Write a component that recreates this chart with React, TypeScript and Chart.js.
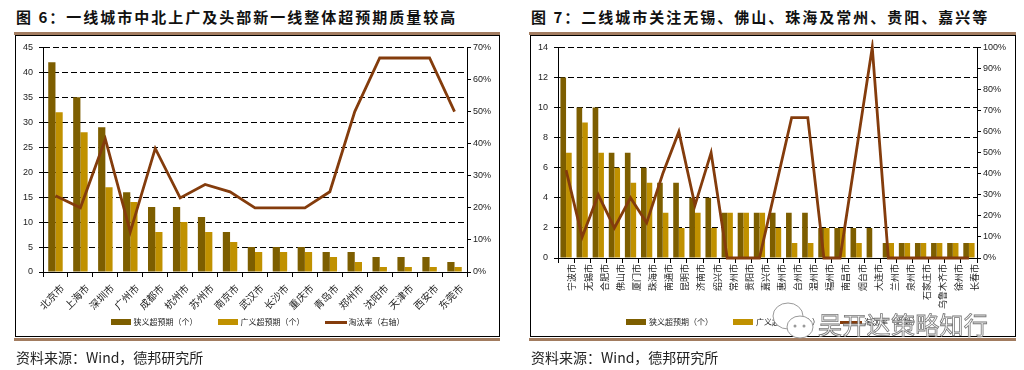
import React, { useEffect, useRef } from 'react';
import { Chart, registerables } from 'chart.js';

Chart.register(...registerables);

// ---------- Data: Figure 6 ----------
const leftCities = ['北京市', '上海市', '深圳市', '广州市', '成都市', '杭州市', '苏州市', '南京市', '武汉市', '长沙市', '重庆市', '青岛市', '郑州市', '沈阳市', '天津市', '西安市', '东莞市'];
const leftNarrow = [42, 35, 29, 16, 13, 13, 11, 8, 5, 5, 5, 4, 4, 3, 3, 3, 2];
const leftBroad = [32, 28, 17, 14, 8, 10, 8, 6, 4, 4, 4, 3, 2, 1, 1, 1, 1];
const leftRate = [23.8, 20, 41.4, 12.5, 38.5, 23.1, 27.3, 25, 20, 20, 20, 25, 50, 66.7, 66.7, 66.7, 50];

// ---------- Data: Figure 7 ----------
const rightCities = ['宁波市', '无锡市', '合肥市', '佛山市', '厦门市', '珠海市', '南通市', '昆明市', '济南市', '绍兴市', '常州市', '贵阳市', '嘉兴市', '惠州市', '台州市', '温州市', '福州市', '南昌市', '烟台市', '大连市', '兰州市', '泉州市', '石家庄市', '乌鲁木齐市', '徐州市', '长春市'];
const rightNarrow = [12, 10, 10, 7, 7, 6, 5, 5, 4, 4, 3, 3, 3, 3, 3, 3, 2, 2, 2, 2, 1, 1, 1, 1, 1, 1];
const rightBroad = [7, 9, 7, 6, 5, 5, 3, 2, 3, 2, 3, 3, 3, 2, 1, 1, 2, 2, 1, 0, 1, 1, 1, 1, 1, 1];
const rightRate = [41.7, 10, 30, 14.3, 28.6, 16.7, 40, 60, 25, 50, 0, 0, 0, 33.3, 66.7, 66.7, 0, 0, 50, 100, 0, 0, 0, 0, 0, 0];

const seriesNames = ['狭义超预期（个）', '广义超预期（个）', '淘汰率（右轴）'];
const titles = ['图 6：一线城市中北上广及头部新一线整体超预期质量较高', '图 7：二线城市关注无锡、佛山、珠海及常州、贵阳、嘉兴等'];
const sourceText = '资料来源：Wind，德邦研究所';
const watermark = '吴开达策略知行';

const DARK = '#7d5e00';
const GOLD = '#c09100';
const LINE = '#843c0c';
const FONT = "'Liberation Sans', 'Noto Sans CJK SC', sans-serif";
const CJK = "'Noto Sans CJK SC', sans-serif";

type Cfg = {
  labels: string[];
  narrow: number[];
  broad: number[];
  rate: number[];
  yMax: number;
  yStep: number;
  y1Max: number;
  yW: number;
  y1W: number;
  xH: number;
  padTop: number;
  rot: number;
  xFont: number;
  labelOffset: number;
  labelPad: number;
  catPct: number;
  width: number;
  height: number;
};

function ComboChart({ cfg }: { cfg: Cfg }) {
  const ref = useRef<HTMLCanvasElement | null>(null);
  useEffect(() => {
    if (!ref.current) return;
    const chart = new Chart(ref.current, {
      type: 'bar',
      data: {
        labels: cfg.labels,
        datasets: [
          {
            type: 'bar',
            label: seriesNames[0],
            data: cfg.narrow,
            backgroundColor: DARK,
            borderWidth: 0,
            yAxisID: 'y',
            categoryPercentage: cfg.catPct,
            barPercentage: 1,
            order: 1,
          } as any,
          {
            type: 'bar',
            label: seriesNames[1],
            data: cfg.broad,
            backgroundColor: GOLD,
            borderWidth: 0,
            yAxisID: 'y',
            categoryPercentage: cfg.catPct,
            barPercentage: 1,
            order: 1,
          } as any,
          {
            type: 'line',
            label: seriesNames[2],
            data: cfg.rate,
            borderColor: LINE,
            backgroundColor: LINE,
            borderWidth: 2.8,
            pointRadius: 0,
            tension: 0,
            yAxisID: 'y1',
            clip: 8,
            order: 0,
          } as any,
        ],
      },
      options: {
        responsive: false,
        maintainAspectRatio: false,
        animation: false,
        layout: { padding: { top: cfg.padTop, left: 0, right: 0, bottom: 0 } },
        plugins: {
          tooltip: { enabled: false },
          legend: { display: false },
        },
        scales: {
          x: {
            offset: true,
            grid: {
              display: true,
              offset: true,
              drawOnChartArea: false,
              drawTicks: true,
              tickLength: 5,
              color: '#000',
            },
            border: { display: true, color: '#000', width: 1 },
            ticks: {
              autoSkip: false,
              minRotation: cfg.rot,
              maxRotation: cfg.rot,
              padding: cfg.labelPad,
              labelOffset: cfg.labelOffset,
              color: '#222',
              font: { size: cfg.xFont, family: CJK },
            },
            afterFit: (s: any) => {
              s.height = cfg.xH;
            },
          },
          y: {
            position: 'left',
            min: 0,
            max: cfg.yMax,
            ticks: { stepSize: cfg.yStep, padding: 6, color: '#222', font: { size: 9, family: FONT } },
            grid: { color: '#000', lineWidth: 1, drawTicks: true, tickLength: 4 },
            border: { display: true, color: '#000', width: 1, dash: [6, 3] },
            afterFit: (s: any) => {
              s.width = cfg.yW;
            },
          },
          y1: {
            position: 'right',
            min: 0,
            max: cfg.y1Max,
            ticks: {
              stepSize: 10,
              padding: 2,
              color: '#222',
              font: { size: 9, family: FONT },
              callback: (v: any) => `${v}%`,
            },
            grid: { drawOnChartArea: false, drawTicks: true, tickLength: 4, color: '#000' },
            border: { display: true, color: '#000', width: 1 },
            afterFit: (s: any) => {
              s.width = cfg.y1W;
            },
          },
        },
      } as any,
    });
    return () => chart.destroy();
  }, [cfg]);
  return <canvas ref={ref} width={cfg.width} height={cfg.height} style={{ width: cfg.width, height: cfg.height, display: 'block' }} />;
}

const leftCfg: Cfg = {
  labels: leftCities,
  narrow: leftNarrow,
  broad: leftBroad,
  rate: leftRate,
  yMax: 45,
  yStep: 5,
  y1Max: 70,
  yW: 27,
  y1W: 32,
  xH: 64,
  padTop: 10,
  rot: 45,
  xFont: 10,
  labelOffset: 7,
  labelPad: 5,
  catPct: 0.58,
  width: 483,
  height: 300,
};

const rightCfg: Cfg = {
  labels: rightCities,
  narrow: rightNarrow,
  broad: rightBroad,
  rate: rightRate,
  yMax: 14,
  yStep: 2,
  y1Max: 100,
  yW: 27,
  y1W: 38,
  xH: 78,
  padTop: 11,
  rot: 90,
  xFont: 9,
  labelOffset: 6,
  labelPad: 1,
  catPct: 0.7,
  width: 484,
  height: 300,
};

function Legend() {
  const text: React.CSSProperties = { fontFamily: CJK, fontSize: 8, lineHeight: '12px', color: '#222', whiteSpace: 'nowrap' };
  const item: React.CSSProperties = { display: 'flex', alignItems: 'center' };
  return (
    <div style={{ display: 'flex', alignItems: 'center', justifyContent: 'center', gap: 20, width: '100%' }}>
      <div style={item}>
        <div style={{ width: 20, height: 6, background: DARK, marginRight: 3 }} />
        <span style={text}>{seriesNames[0]}</span>
      </div>
      <div style={item}>
        <div style={{ width: 20, height: 6, background: GOLD, marginRight: 3 }} />
        <span style={text}>{seriesNames[1]}</span>
      </div>
      <div style={item}>
        <div style={{ width: 22, height: 3, background: LINE, marginRight: 2 }} />
        <span style={text}>{seriesNames[2]}</span>
      </div>
    </div>
  );
}

function Panel({ x, boxW, title, cfg }: { x: number; boxW: number; title: string; cfg: Cfg }) {
  return (
    <>
      <div
        style={{
          position: 'absolute',
          left: x + 1,
          top: 6,
          fontFamily: CJK,
          fontWeight: 700,
          fontSize: 15,
          letterSpacing: 2.0,
          lineHeight: '22px',
          color: '#111',
          whiteSpace: 'nowrap',
        }}
      >
        {title}
      </div>
      <div style={{ position: 'absolute', left: x - 1, top: 32, width: boxW + 1, height: 3, background: '#a27c60' }} />
      <div
        style={{
          position: 'absolute',
          left: x,
          top: 35,
          width: boxW,
          height: 302,
          border: '1px solid #000',
          boxSizing: 'border-box',
        }}
      />
      <div style={{ position: 'absolute', left: x + 1, top: 36 }}>
        <ComboChart cfg={cfg} />
      </div>
      <div style={{ position: 'absolute', left: x, top: 316, width: boxW }}>
        <Legend />
      </div>
      <div style={{ position: 'absolute', left: x - 1, top: 338, width: boxW + 1, height: 3, background: '#a27c60' }} />
      <div
        style={{
          position: 'absolute',
          left: x + 1,
          top: 347,
          fontFamily: CJK,
          fontSize: 14,
          lineHeight: '20px',
          color: '#222',
          whiteSpace: 'nowrap',
        }}
      >
        {sourceText}
      </div>
    </>
  );
}

export default function App() {
  return (
    <div style={{ position: 'absolute', left: 0, top: 0, width: 1024, height: 370, background: '#fff', overflow: 'hidden' }}>
      <Panel x={15} boxW={485} title={titles[0]} cfg={leftCfg} />
      <Panel x={530} boxW={486} title={titles[1]} cfg={rightCfg} />
      <svg style={{ position: 'absolute', left: 770, top: 300 }} width={50} height={44}>
        <ellipse cx={18} cy={16} rx={15} ry={13} fill="#fff" stroke="#999" strokeWidth={1} />
        <ellipse cx={30} cy={27} rx={13} ry={11} fill="#fff" stroke="#999" strokeWidth={1} />
        <circle cx={25} cy={26} r={1.5} fill="#999" />
        <circle cx={34} cy={26} r={1.5} fill="#999" />
      </svg>
      <div
        style={{
          position: 'absolute',
          left: 818,
          top: 310,
          fontFamily: CJK,
          fontSize: 24,
          lineHeight: '28px',
          letterSpacing: 0.3,
          color: '#fff',
          WebkitTextStroke: '0.8px #777',
          whiteSpace: 'nowrap',
        }}
      >
        {watermark}
      </div>
    </div>
  );
}
